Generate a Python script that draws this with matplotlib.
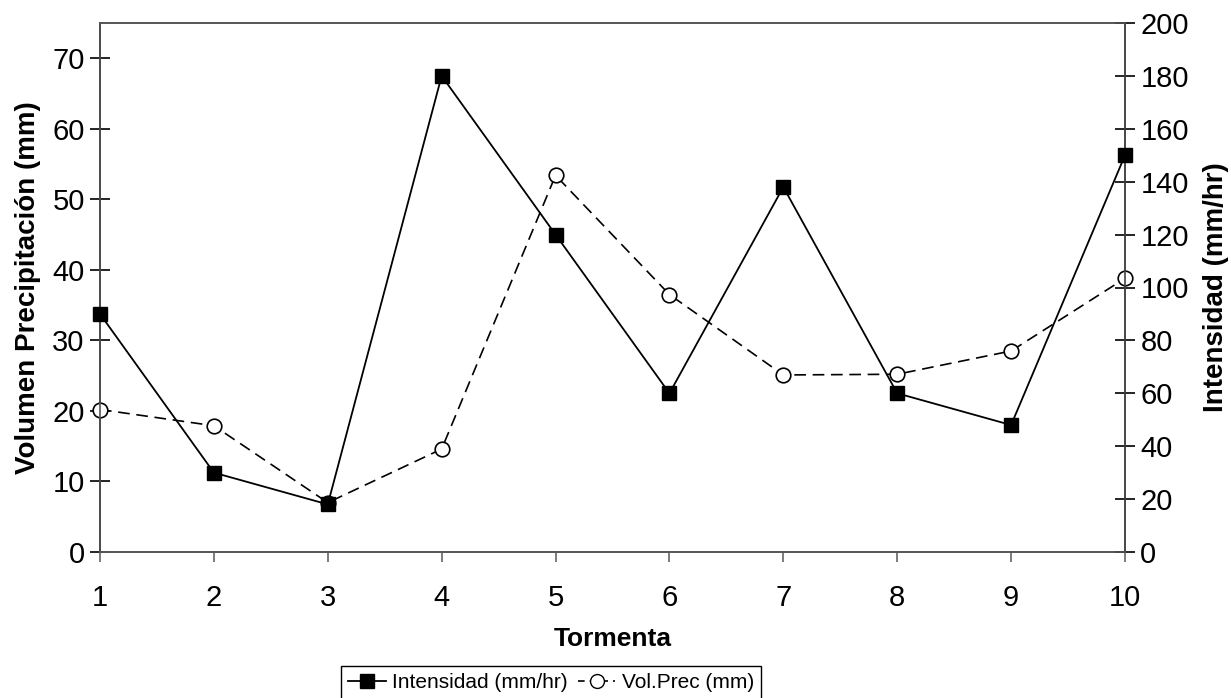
import matplotlib.pyplot as plt
from matplotlib.lines import Line2D

plt.rcParams['font.family'] = ['Liberation Sans', 'DejaVu Sans']

# Data
tormenta = [1, 2, 3, 4, 5, 6, 7, 8, 9, 10]
intensidad = [90, 30, 18, 180, 120, 60, 138, 60, 48, 150]          # mm/hr (right axis)
vol_prec = [20.2, 17.9, 7.0, 14.6, 53.4, 36.5, 25.1, 25.2, 28.5, 38.8]  # mm (left axis)

fig = plt.figure(figsize=(12.31, 6.98), dpi=100)
ax1 = fig.add_axes([100 / 1231, 146 / 698, 1025 / 1231, 529 / 698])
ax2 = ax1.twinx()

# Volume on the left axis, dashed with open circles
ax1.plot(tormenta, vol_prec, color='black', lw=1.2, dashes=(7, 4),
         marker='o', markersize=10.5, markerfacecolor='white',
         markeredgecolor='black', markeredgewidth=1.2, clip_on=False, zorder=3)

# Intensity on the right axis, solid with filled squares
ax2.plot(tormenta, intensidad, color='black', lw=1.3,
         marker='s', markersize=10.5, markerfacecolor='black',
         markeredgecolor='black', clip_on=False, zorder=3)

ax1.set_xlim(1, 10)
ax1.set_ylim(0, 75)
ax2.set_ylim(0, 200)
ax1.set_xticks(tormenta)
ax1.set_yticks(range(0, 71, 10))
ax2.set_yticks(range(0, 201, 20))

for ax in (ax1, ax2):
    for s in ax.spines.values():
        s.set_color('#555555')
        s.set_linewidth(1.2)
ax1.spines['left'].set_color('black')
ax2.spines['right'].set_color('#444444')

ax1.tick_params(axis='y', direction='inout', length=14, width=1.2, labelsize=21, pad=4)
ax1.tick_params(axis='x', direction='out', length=7, width=1.2, labelsize=21, pad=16,
                color='#666666')
ax2.tick_params(axis='y', direction='inout', length=14, width=1.2, labelsize=21, pad=4)

ax1.set_xlabel('Tormenta', fontsize=19, fontweight='bold', labelpad=11)
ax1.set_ylabel('Volumen Precipitación (mm)', fontsize=20, fontweight='bold', labelpad=8)
ax2.set_ylabel('Intensidad (mm/hr)', fontsize=20, fontweight='bold', labelpad=10)

handles = [
    Line2D([], [], color='black', lw=1.3, marker='s', markersize=10),
    Line2D([], [], color='black', lw=1.2, dashes=(4, 3), marker='o', markersize=10,
           markerfacecolor='white'),
]
leg = fig.legend(handles, ['Intensidad (mm/hr)', 'Vol.Prec (mm)'], ncol=2,
                 loc='upper center', bbox_to_anchor=(551 / 1231, 32 / 698),
                 fontsize=15, frameon=True, fancybox=False, framealpha=1,
                 edgecolor='black', handlelength=1.8, handletextpad=0.3,
                 columnspacing=0.5, borderpad=0.35, borderaxespad=0)
leg.get_frame().set_linewidth(1.0)

fig.savefig('out.png', dpi=100)
